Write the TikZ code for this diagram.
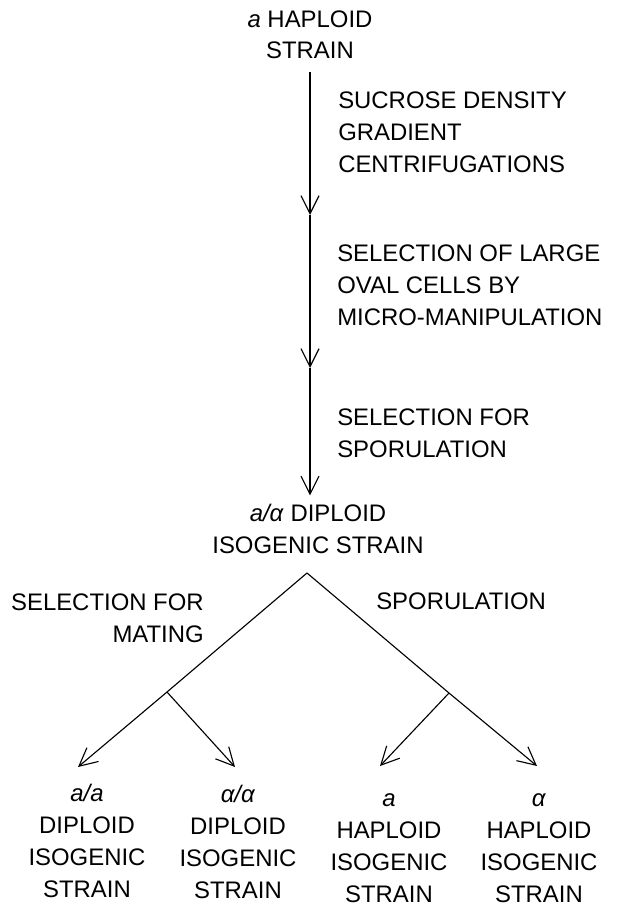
\documentclass[tikz,border=0pt]{standalone}
\usepackage{fontspec}
\setmainfont{Liberation Sans}
\usetikzlibrary{arrows.meta}

\begin{document}
\begin{tikzpicture}[x=0.025cm, y=-0.025cm,
  lbl/.style={font=\fontsize{17}{22.7}\selectfont, inner sep=0pt, anchor=base},
  flow/.style={line width=0.8pt, -{Straight Barb[length=0.45cm, width=0.45cm]}}]
\useasboundingbox (0,0) rectangle (618,907);
% starting strain and the selection steps (placed at last baseline)
\node[lbl, align=center] (hap) at (310,59) {\textit{a} HAPLOID\\STRAIN};
\node[lbl, align=left, anchor=base west] (step1) at (338,172) {SUCROSE DENSITY\\GRADIENT\\CENTRIFUGATIONS};
\node[lbl, align=left, anchor=base west] (step2) at (337,325) {SELECTION OF LARGE\\OVAL CELLS BY\\MICRO-MANIPULATION};
\node[lbl, align=left, anchor=base west] (step3) at (337,457) {SELECTION FOR\\SPORULATION};
\node[lbl, align=center] (dip) at (318,553) {\textit{a/α} DIPLOID\\ISOGENIC STRAIN};
\coordinate (c1) at (310,215);
\coordinate (c2) at (310,368);
\draw[flow, shorten <=0.3cm] (hap) -- (c1);
\draw[flow] (c1) -- (c2);
\draw[flow, shorten >=0.2cm] (c2) -- (dip.north -| c2);
% branches
\coordinate (split) at (307,573);
\coordinate (bl) at (167,692);
\coordinate (br) at (449,693);
\coordinate (taa) at (78,767);
\coordinate (tal) at (235,767);
\coordinate (ta) at (380,766);
\coordinate (tala) at (537,766);
\node[lbl, align=right, anchor=base east] (mating) at (204,642) {SELECTION FOR\\MATING};
\node[lbl, anchor=base west] (spor) at (376,609) {SPORULATION};
\draw[flow] (split) -- (bl) -- (taa);
\draw[flow] (bl) -- (tal);
\draw[flow] (split) -- (br) -- (tala);
\draw[flow] (br) -- (ta);
% resulting strains
\node[lbl, align=center] (aa) at (87,897) {\textit{a/a}\\DIPLOID\\ISOGENIC\\STRAIN};
\node[lbl, align=center] (alal) at (238,898) {\textit{α/α}\\DIPLOID\\ISOGENIC\\STRAIN};
\node[lbl, align=center] (hapa) at (389,902) {\textit{a}\\HAPLOID\\ISOGENIC\\STRAIN};
\node[lbl, align=center] (hapal) at (539,902) {\textit{α}\\HAPLOID\\ISOGENIC\\STRAIN};
\end{tikzpicture}
\end{document}
